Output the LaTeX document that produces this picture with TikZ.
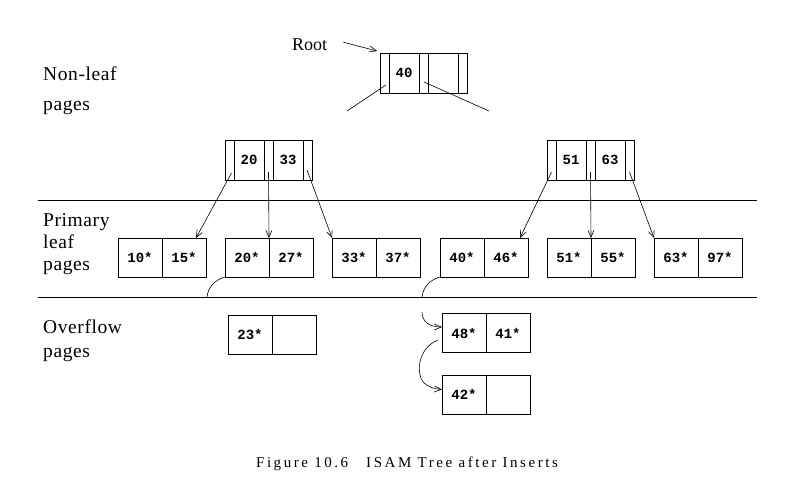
\documentclass[tikz,border=0pt]{standalone}
\usepackage{fontspec}
\setmainfont{Liberation Serif}
\newfontfamily\keyfont{Liberation Mono}
\newfontfamily\tagfont[LetterSpace=3]{Liberation Serif}
\newfontfamily\capfont[LetterSpace=17]{Liberation Serif}
\usetikzlibrary{arrows.meta,positioning,calc}
\tikzset{
  link/.style={-{Straight Barb[length=7pt,width=6pt]}, line width=.6pt},
  tie/.style={line width=.6pt},
  pcell/.style={draw, line width=.6pt, minimum width=9pt, minimum height=40pt, inner sep=0pt, outer sep=0pt},
  kcell/.style={draw, line width=.6pt, minimum width=30pt, minimum height=40pt, inner sep=0pt, outer sep=0pt,
                font=\keyfont\bfseries\fontsize{14}{14}\selectfont},
  entry/.style={draw, line width=.6pt, minimum width=44pt, minimum height=39pt, inner sep=0pt, outer sep=0pt,
                font=\keyfont\bfseries\fontsize{14}{14}\selectfont},
  sidetag/.style={anchor=north west, align=left, inner sep=0pt}
}
\begin{document}
\begin{tikzpicture}[x=1pt, y=-1pt]
  \useasboundingbox (0,0) rectangle (812,499);
  \node[sidetag, font=\tagfont\fontsize{19.5}{30}\selectfont] (nonleaf) at (43,66.5) {Non-leaf\\pages};
  \node[sidetag, font=\tagfont\fontsize{19.5}{22}\selectfont] (primary) at (43,213.7) {Primary\\leaf\\pages};
  \node[sidetag, font=\tagfont\fontsize{19.5}{24}\selectfont] (overflow) at (43,319.7) {Overflow\\pages};
  \node[anchor=base west, inner sep=0pt, font=\fontsize{18}{18}\selectfont] (rootlbl) at (292,50) {Root};
  \node[pcell] (r0) at (384.5,73) {};
  \node[kcell, right=0pt of r0] (rk1) {40};
  \node[pcell, right=0pt of rk1] (r1) {};
  \node[kcell, right=0pt of r1] (rk2) {};
  \node[pcell, right=0pt of rk2] (r2) {};
  \node[pcell] (a0) at (229.5,160) {};
  \node[kcell, right=0pt of a0] (ak1) {20};
  \node[pcell, right=0pt of ak1] (a1) {};
  \node[kcell, right=0pt of a1] (ak2) {33};
  \node[pcell, right=0pt of ak2] (a2) {};
  \node[pcell] (b0) at (551.5,160) {};
  \node[kcell, right=0pt of b0] (bk1) {51};
  \node[pcell, right=0pt of bk1] (b1) {};
  \node[kcell, right=0pt of b1] (bk2) {63};
  \node[pcell, right=0pt of bk2] (b2) {};
  \node[entry] (l1a) at (140,257.5) {10*};
  \node[entry, right=0pt of l1a] (l1b) {15*};
  \node[entry] (l2a) at (247,257.5) {20*};
  \node[entry, right=0pt of l2a] (l2b) {27*};
  \node[entry] (l3a) at (354,257.5) {33*};
  \node[entry, right=0pt of l3a] (l3b) {37*};
  \node[entry] (l4a) at (462,257.5) {40*};
  \node[entry, right=0pt of l4a] (l4b) {46*};
  \node[entry] (l5a) at (569,257.5) {51*};
  \node[entry, right=0pt of l5a] (l5b) {55*};
  \node[entry] (l6a) at (676,257.5) {63*};
  \node[entry, right=0pt of l6a] (l6b) {97*};
  \node[entry] (o1a) at (250,334.5) {23*};
  \node[entry, right=0pt of o1a] (o1b) {};
  \node[entry] (o2a) at (464,333) {48*};
  \node[entry, right=0pt of o2a] (o2b) {41*};
  \node[entry] (o3a) at (464,394.5) {42*};
  \node[entry, right=0pt of o3a] (o3b) {};
  \node[anchor=base, inner sep=0pt, font=\capfont\fontsize{15}{15}\selectfont] (caption) at (407,467) {Figure 10.6\hspace{18pt}ISAM Tree after Inserts};
  \coordinate (rl) at (347,111);
  \coordinate (rr) at (489,111);
  \coordinate (ov1) at (207,297);
  \coordinate (ov2) at (422,297);
  \coordinate (ov3) at (422,312);
  \draw[tie] (38,200) -- (757,200);
  \draw[tie] (38,297) -- (757,297);
  \draw[link] ($(rootlbl.east)+(16,-2)$) -- ($(r0.north west)+(-3,-2)$);
  \draw[tie] ($(r0)+(1.5,12)$) -- (rl);
  \draw[tie] ($(r1)+(0.5,9)$) -- (rr);
  \draw[link] ($(a0)+(2,13)$) -- ($(l1b.north east)+(-10,0)$);
  \draw[link] ($(a1)+(0,12)$) -- (l2a.north east);
  \draw[link] ($(a2)+(-0.5,10)$) -- (l3a.north west);
  \draw[link] ($(b0)+(0,12)$) -- ($(l4b.north east)+(-8,0)$);
  \draw[link] ($(b1)+(0,12)$) -- (l5a.north east);
  \draw[link] ($(b2)+(0,12)$) -- (l6a.north west);
  \draw[tie] (l2a.south west) .. controls (214,280) and (208,288) .. (ov1);
  \draw[tie] (l4a.south west) .. controls (429,280) and (423,288) .. (ov2);
  \draw[link] (ov3) .. controls (422,322) and (430,327) .. ($(o2a.west)+(0,-6)$);
  \draw[link] ($(o2a.west)+(-4,7)$) .. controls (418,348) and (416,372) .. (423,382)
    .. controls (428,387) and (434,389) .. ($(o3a.west)+(0,-5)$);
\end{tikzpicture}
\end{document}
